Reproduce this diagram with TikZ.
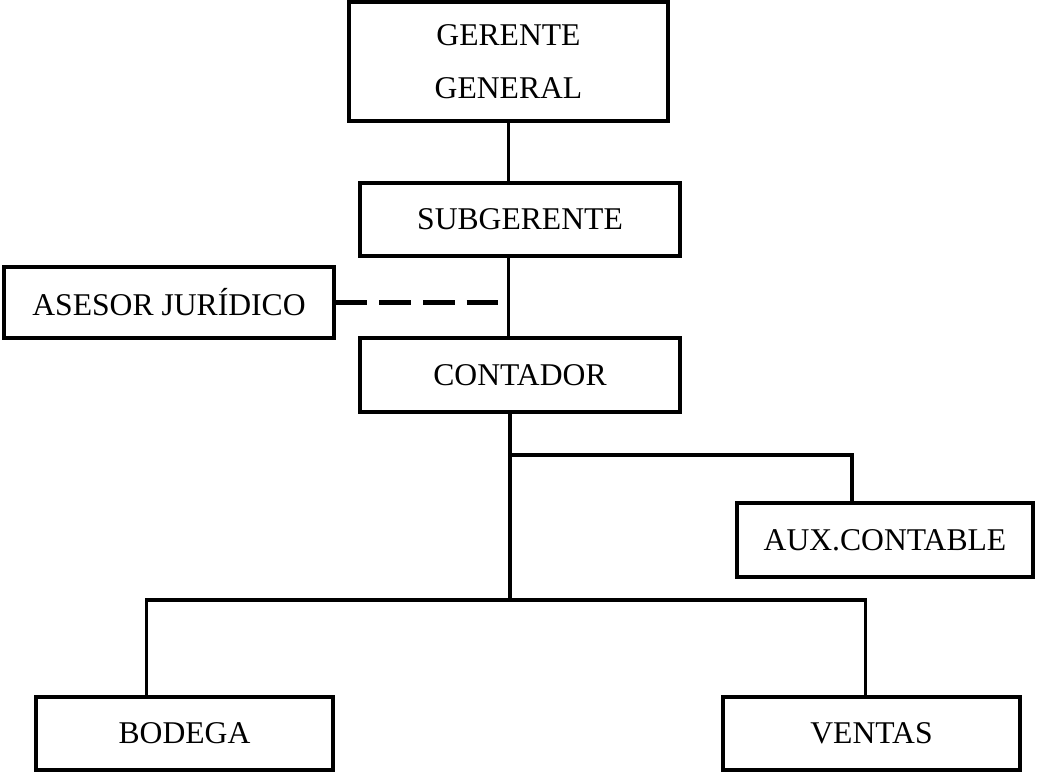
\documentclass[tikz,border=0pt]{standalone}
\usepackage{fontspec}
\setmainfont{Liberation Serif}
\usetikzlibrary{positioning,calc}

\begin{document}
\begin{tikzpicture}[x=0.025cm, y=-0.025cm,
    cargo/.style={draw, line width=2.6pt, minimum width=8cm, minimum height=1.85cm, inner sep=0pt, align=center, font={\fontsize{22.5pt}{38pt}\selectfont}},
    enlace/.style={line width=2.3pt}]
    \useasboundingbox (0,0) rectangle (1037,771);

    % jefatura
    \node[cargo, minimum width=7.975cm, minimum height=2.975cm] (ger) at (508.5,61.5) {GERENTE\\GENERAL};
    \node[cargo, minimum height=1.825cm] (sub) at (520,219.5) {SUBGERENTE};
    \node[cargo, minimum width=8.25cm, minimum height=1.775cm] (ase) at (169,302.5) {ASESOR JUR\'IDICO};
    \node[cargo] (cont) at (520,375) {CONTADOR};

    % dependencias del contador
    \node[cargo, minimum width=7.4cm] (aux) at (885,540) {AUX.CONTABLE};
    \node[cargo, minimum width=7.425cm, minimum height=1.825cm] (bod) at (184.5,733.5) {BODEGA};
    \node[cargo, minimum width=7.425cm, minimum height=1.825cm] (ven) at (871.5,733.5) {VENTAS};

    \coordinate (finAse) at (498,298);
    \coordinate (nudoAux) at (510,455);
    \coordinate (nudoBase) at (510,600);

    \draw[enlace] (ger.south) -- (ger.south |- sub.north);
    \draw[enlace] (sub.south -| ger.south) -- (cont.north -| ger.south);
    \draw[enlace, line width=3pt, dash pattern=on 0.79cm off 0.3cm] (ase.east) -- (ase.east -| finAse);

    \draw[enlace] (cont.south -| nudoBase) -- (nudoBase);
    \draw[enlace] (nudoAux) -| ($(aux.north west)!0.39!(aux.north east)$);
    \draw[enlace] ($(bod.north west)!0.374!(bod.north east)$) |- (nudoBase) -| ($(ven.north west)!0.48!(ven.north east)$);
\end{tikzpicture}
\end{document}
